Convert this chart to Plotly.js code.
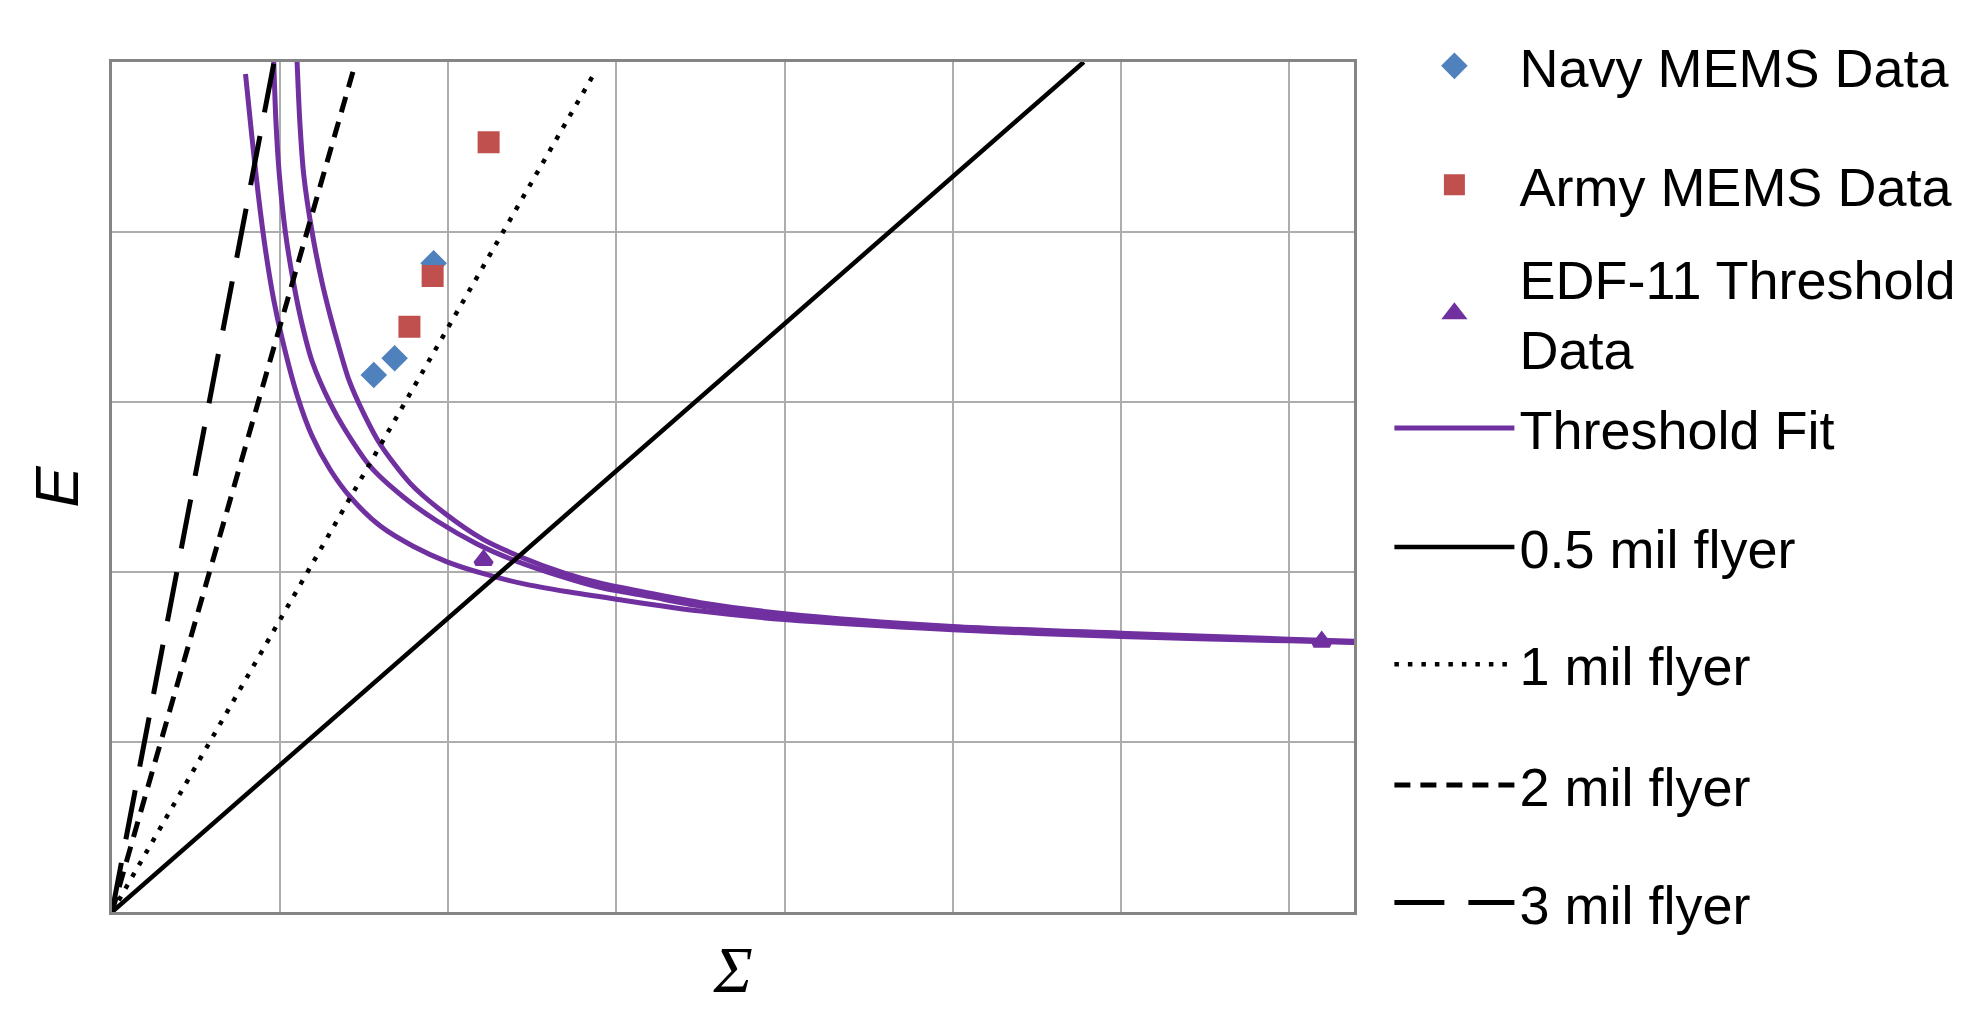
<!DOCTYPE html>
<html>
<head>
<meta charset="utf-8">
<script src="https://cdn.plot.ly/plotly-3.0.1.min.js"></script>
<style>html,body{margin:0;padding:0;background:#fff;}#chart{width:1984px;height:1016px;}</style>
</head>
<body>
<div id="chart"></div>
<script>
// ---- data ----
const navyX = [1.557, 1.681, 1.913];
const navyY = [3.159, 3.257, 3.816];
const armyX = [1.769, 1.907, 2.240];
const armyY = [3.443, 3.741, 4.528];
const edfX = [2.21, 7.195];
const edfY = [2.07, 1.59];

const fitAX = [0.794, 0.83, 0.87, 0.915, 0.962, 1.01, 1.101, 1.19, 1.299, 1.418, 1.596, 1.794, 1.993, 2.21, 2.45, 2.7, 3.0, 3.5, 4.0, 5.0, 6.0, 7.0, 7.387];
const fitAY = [4.93, 4.58, 4.22, 3.88, 3.6, 3.38, 3.04, 2.80, 2.60, 2.44, 2.27, 2.15, 2.06, 1.99, 1.93, 1.885, 1.84, 1.77, 1.72, 1.66, 1.62, 1.595, 1.585];
const fitBX = [0.962, 0.975, 0.995, 1.031, 1.08, 1.13, 1.19, 1.299, 1.378, 1.537, 1.735, 1.933, 2.171, 2.389, 2.686, 2.9, 3.2, 3.5, 4.0, 5.0, 6.0, 7.0, 7.387];
const fitBY = [5.0, 4.65, 4.34, 4.0, 3.70, 3.46, 3.24, 2.99, 2.85, 2.62, 2.44, 2.30, 2.165, 2.07, 1.97, 1.91, 1.855, 1.80, 1.74, 1.67, 1.63, 1.60, 1.588];
const fitCX = [1.101, 1.117, 1.14, 1.19, 1.25, 1.30, 1.339, 1.409, 1.498, 1.596, 1.775, 1.973, 2.21, 2.428, 2.686, 2.9, 3.2, 3.5, 4.0, 5.0, 6.0, 7.0, 7.387];
const fitCY = [5.0, 4.65, 4.34, 4.0, 3.7, 3.5, 3.36, 3.13, 2.93, 2.75, 2.52, 2.35, 2.19, 2.09, 1.995, 1.935, 1.875, 1.82, 1.755, 1.68, 1.64, 1.605, 1.593];

const flyer05X = [0, 5.78];
const flyer05Y = [0, 5.0];
const flyer1X = [0, 2.878];
const flyer1Y = [0, 4.95];
const flyer2X = [0, 1.438];
const flyer2Y = [0, 4.96];
const flyer3X = [0, 0.962];
const flyer3Y = [0, 4.99];

const seriesNames = ['Navy MEMS Data', 'Army MEMS Data', 'EDF-11 Threshold<br>Data', 'Threshold Fit',
                     '0.5 mil flyer', '1 mil flyer', '2 mil flyer', '3 mil flyer'];

// ---- styles ----
const PURPLE = '#7030A0', NAVY = '#4F81BD', ARMY = '#C0504D';
const fitLine = {color: PURPLE, width: 5, shape: 'spline', smoothing: 0.8};

const traces = [
  {x: navyX, y: navyY, name: seriesNames[0], mode: 'markers', type: 'scatter', legend: 'legend',
   marker: {symbol: 'diamond', size: 15, color: NAVY, line: {color: NAVY, width: 5}}},
  {x: armyX, y: armyY, name: seriesNames[1], mode: 'markers', type: 'scatter', legend: 'legend2',
   marker: {symbol: 'square', size: 17, color: ARMY, line: {color: ARMY, width: 5}}},
  {x: edfX, y: edfY, name: seriesNames[2], mode: 'markers', type: 'scatter', legend: 'legend3',
   marker: {symbol: 'triangle-up', size: 14, color: PURPLE, line: {color: PURPLE, width: 5}}},
  {x: fitAX, y: fitAY, name: seriesNames[3], mode: 'lines', type: 'scatter', legend: 'legend4', legendgroup: 'fit',
   line: fitLine},
  {x: fitBX, y: fitBY, name: seriesNames[3], mode: 'lines', type: 'scatter', legend: 'legend4', legendgroup: 'fit', showlegend: false,
   line: fitLine},
  {x: fitCX, y: fitCY, name: seriesNames[3], mode: 'lines', type: 'scatter', legend: 'legend4', legendgroup: 'fit', showlegend: false,
   line: fitLine},
  {x: flyer05X, y: flyer05Y, name: seriesNames[4], mode: 'lines', type: 'scatter', legend: 'legend5',
   line: {color: '#000', width: 4.5}},
  {x: flyer1X, y: flyer1Y, name: seriesNames[5], mode: 'lines', type: 'scatter', legend: 'legend6',
   line: {color: '#000', width: 4.5, dash: '4.5px,9px'}},
  {x: flyer2X, y: flyer2Y, name: seriesNames[6], mode: 'lines', type: 'scatter', legend: 'legend7',
   line: {color: '#000', width: 5, dash: '16px,10px'}},
  {x: flyer3X, y: flyer3Y, name: seriesNames[7], mode: 'lines', type: 'scatter', legend: 'legend8',
   line: {color: '#000', width: 5, dash: '50px,24px'}}
];

const legendFont = {family: 'Liberation Sans, Arial, sans-serif', size: 54, color: '#000'};
function mkLegend(yc) {
  return {x: 1.0285, xanchor: 'left', y: yc, yanchor: 'middle', font: legendFont,
          itemwidth: 120, bgcolor: 'rgba(0,0,0,0)', borderwidth: 0, tracegroupgap: 0,
          itemclick: false, itemdoubleclick: false};
}
const legendY = [0.995, 0.855, 0.704, 0.569, 0.429, 0.291, 0.149, 0.0106];

const gridColor = '#adadad';
const layout = {
  width: 1984, height: 1016,
  paper_bgcolor: '#fff', plot_bgcolor: '#fff',
  margin: {l: 112, r: 630, t: 62, b: 104, autoexpand: false},
  showlegend: true,
  xaxis: {range: [0, 7.387], dtick: 1, tick0: 0, showticklabels: false, ticks: '',
          showgrid: true, gridcolor: gridColor, gridwidth: 2, zeroline: false,
          showline: true, mirror: true, linecolor: '#858585', linewidth: 3,
          title: {text: '<i>Σ</i>', font: {family: 'Liberation Serif, Times New Roman, serif', size: 66, color: '#000'}, standoff: 32}},
  yaxis: {range: [0, 5], dtick: 1, tick0: 0, showticklabels: false, ticks: '',
          showgrid: true, gridcolor: gridColor, gridwidth: 2, zeroline: false,
          showline: true, mirror: true, linecolor: '#858585', linewidth: 3,
          title: {text: '<i>E</i>', font: {family: 'Liberation Sans, Arial, sans-serif', size: 62, color: '#000'}, standoff: 11}}
};
layout.legend = mkLegend(legendY[0]);
for (let i = 1; i < legendY.length; i++) layout['legend' + (i + 1)] = mkLegend(legendY[i]);

Plotly.newPlot('chart', traces, layout, {displayModeBar: false, staticPlot: true});
</script>
</body>
</html>
